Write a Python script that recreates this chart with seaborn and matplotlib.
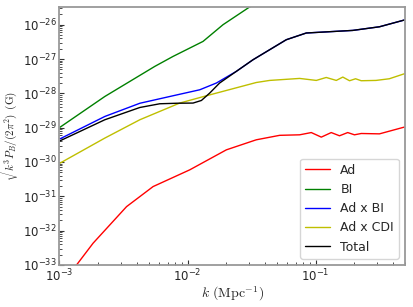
import numpy as np
import pandas as pd
import matplotlib
matplotlib.use("Agg")
import matplotlib.pyplot as plt
import seaborn as sns

sns.set_style("white")
plt.rcParams['mathtext.fontset'] = 'cm'
plt.rcParams['font.family'] = ['DejaVu Sans']

# --- data (k in Mpc^-1, amplitude in G) ---
k_ad = [0.00120, 0.00136, 0.00183, 0.00334, 0.00424, 0.00538, 0.0104, 0.0201, 0.0344,
        0.0524, 0.0750, 0.0925, 0.1107, 0.1324, 0.1536, 0.178, 0.201, 0.227, 0.315, 0.493]
p_ad = [5.5e-34, 1.0e-33, 4.3e-33, 5.0e-32, 9.8e-32, 1.92e-31, 5.9e-31, 2.26e-30, 4.43e-30,
        5.98e-30, 6.19e-30, 7.2e-30, 5.3e-30, 7.2e-30, 5.8e-30, 7.2e-30, 6.19e-30, 6.76e-30, 6.6e-30, 1.04e-29]

k_bi = [0.00101, 0.00226, 0.00555, 0.00770, 0.01321, 0.01892, 0.0305, 0.040]
p_bi = [1.03e-29, 8.1e-29, 6.1e-28, 1.19e-27, 3.26e-27, 1.0e-26, 3.28e-26, 5.4e-26]

k_adbi = [0.00101, 0.00226, 0.00424, 0.00770, 0.01245, 0.0168, 0.0240, 0.0324, 0.0438,
          0.0590, 0.0845, 0.195, 0.315, 0.493]
p_adbi = [4.73e-30, 2.12e-29, 5.14e-29, 8.5e-29, 1.27e-28, 2.0e-28, 4.35e-28, 9.5e-28, 1.87e-27,
          3.65e-27, 5.73e-27, 6.82e-27, 8.7e-27, 1.37e-26]

k_adcdi = [0.00101, 0.00226, 0.00424, 0.00869, 0.01403, 0.0344, 0.0438, 0.0750, 0.1012, 0.121,
           0.145, 0.163, 0.184, 0.205, 0.227, 0.296, 0.376, 0.493]
p_adcdi = [9.27e-31, 4.97e-30, 1.70e-29, 5.21e-29, 8.5e-29, 2.07e-28, 2.38e-28, 2.72e-28, 2.38e-28, 2.90e-28,
           2.38e-28, 2.98e-28, 2.33e-28, 2.66e-28, 2.33e-28, 2.38e-28, 2.66e-28, 3.72e-28]

k_tot = [0.00101, 0.00226, 0.00424, 0.00607, 0.00830, 0.01104, 0.01283, 0.0149, 0.0178, 0.0240,
         0.0324, 0.0438, 0.0590, 0.0845, 0.195, 0.315, 0.493]
p_tot = [4.14e-30, 1.70e-29, 3.87e-29, 4.97e-29, 5.15e-29, 5.21e-29, 6.2e-29, 1.02e-28, 2.0e-28, 4.35e-28,
         9.5e-28, 1.87e-27, 3.65e-27, 5.73e-27, 6.82e-27, 8.7e-27, 1.37e-26]

labels = ["Ad", "BI", "Ad x BI", "Ad x CDI", "Total"]
colors = ["red", "green", "blue", "y", "black"]

frames = []
for lab, ks, ps in zip(labels, [k_ad, k_bi, k_adbi, k_adcdi, k_tot],
                       [p_ad, p_bi, p_adbi, p_adcdi, p_tot]):
    frames.append(pd.DataFrame({"k": ks, "P": ps, "series": lab}))
df = pd.concat(frames, ignore_index=True)

fig = plt.figure(figsize=(4.13, 3.07), dpi=100)
ax = fig.add_axes([0.144, 0.137, 0.837, 0.839])

sns.lineplot(data=df, x="k", y="P", hue="series", hue_order=labels,
             palette=dict(zip(labels, colors)), estimator=None, sort=False,
             linewidth=1.0, ax=ax)

ax.set_xscale("log")
ax.set_yscale("log")
ax.set_xlim(1e-3, 0.5)
ax.set_ylim(1e-33, 3.2e-26)

ax.set_xlabel(r"$k\ (\mathrm{Mpc}^{-1})$", fontsize=10, labelpad=0)
ax.set_ylabel(r"$\sqrt{k^3 P_B/(2\pi^2)}\ \mathrm{(G)}$", fontsize=8, labelpad=1)

for s in ax.spines.values():
    s.set_color("#999999")
    s.set_linewidth(1.3)

ax.tick_params(axis="both", which="both", direction="in", labelsize=8.5,
               left=True, bottom=True, color="#333333", pad=2)
ax.tick_params(which="major", length=3.5, width=0.8)
ax.tick_params(which="minor", length=2, width=0.6)
ax.yaxis.set_major_locator(matplotlib.ticker.LogLocator(base=10, numticks=20))
ax.yaxis.set_minor_locator(matplotlib.ticker.LogLocator(base=10, subs=np.arange(2, 10), numticks=20))
ax.yaxis.set_minor_formatter(matplotlib.ticker.NullFormatter())

leg = ax.legend(loc="lower right", fontsize=9, frameon=True, handlelength=2.0,
                borderaxespad=0.5)
leg.get_frame().set_edgecolor("#cccccc")

fig.savefig("out.png", dpi=100)
